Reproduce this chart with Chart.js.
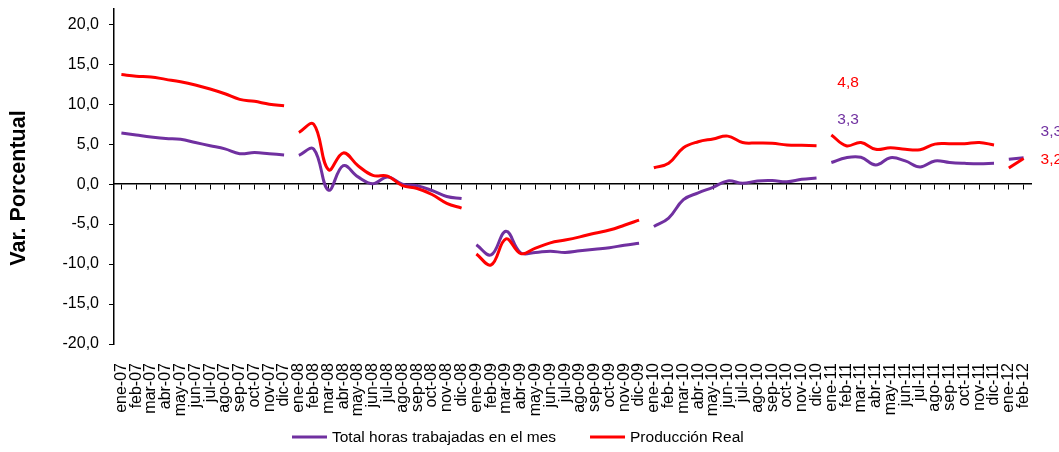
<!DOCTYPE html>
<html>
<head>
<meta charset="utf-8">
<script src="https://cdn.jsdelivr.net/npm/chart.js@4/dist/chart.umd.min.js"></script>
<style>
  html, body { margin: 0; padding: 0; background: #fff; }
</style>
</head>
<body>
<canvas id="chart" width="1059" height="452"></canvas>
<script>
// ---------- categories ----------
const months = ['ene', 'feb', 'mar', 'abr', 'may', 'jun', 'jul', 'ago', 'sep', 'oct', 'nov', 'dic'];
const years = ['07', '08', '09', '10', '11', '12'];
const labels = years.flatMap(y => months.map(m => m + '-' + y)).slice(0, 62);

// ---------- series (var. % anual) ----------
const horas = [
  6.4, 6.15, 5.9, 5.7, 5.6, 5.2, 4.8, 4.4, 3.8, 3.95, 3.8, 3.65,
  3.6, 4.4, -0.75, 2.3, 0.9, 0.05, 0.9, 0.0, -0.2, -0.8, -1.55, -1.8,
  -7.6, -8.85, -5.9, -8.6, -8.55, -8.4, -8.55, -8.35, -8.15, -7.95, -7.65, -7.4,
  -5.3, -4.25, -1.95, -1.1, -0.4, 0.4, 0.1, 0.4, 0.45, 0.3, 0.6, 0.75,
  2.7, 3.3, 3.35, 2.4, 3.3, 2.9, 2.15, 2.9, 2.7, 2.6, 2.55, 2.6,
  3.1, 3.3
];
const produccion = [
  13.7, 13.5, 13.4, 13.1, 12.8, 12.4, 11.9, 11.3, 10.6, 10.35, 10.0, 9.8,
  6.45, 7.5, 1.8, 3.9, 2.3, 1.1, 1.0, -0.2, -0.55, -1.3, -2.4, -3.0,
  -8.75, -10.1, -6.85, -8.7, -8.0, -7.35, -7.0, -6.6, -6.15, -5.75, -5.15, -4.5,
  2.05, 2.6, 4.55, 5.3, 5.65, 6.0, 5.2, 5.15, 5.1, 4.9, 4.85, 4.8,
  6.15, 4.8, 5.2, 4.35, 4.55, 4.35, 4.3, 5.0, 5.05, 5.05, 5.2, 4.9,
  2.0, 3.2
];

// ---------- y axis ----------
const yMin = -20;
const yMax = 21.9;
const yStep = 5;
const yTitle = 'Var. Porcentual';

// value labels shown on the chart (feb-11 and feb-12)
const valueLabels = [
  { series: 'produccion', index: 49, dx: 2, dy: -63, align: 'center' },
  { series: 'horas', index: 49, dx: 2, dy: -38, align: 'center' },
  { series: 'horas', index: 61, dx: 17, dy: -26, align: 'left' },
  { series: 'produccion', index: 61, dx: 17, dy: 1, align: 'left' }
];

const FONT = '"Liberation Sans", Arial, sans-serif';
const fmt = v => v.toFixed(1).replace('.', ',');

const series = [
  { key: 'horas', label: 'Total horas trabajadas en el mes', color: '#7030A0', values: horas, order: 1 },
  { key: 'produccion', label: 'Producción Real', color: '#FF0000', values: produccion, order: 0 }
];

// one dataset per series and year, so each year is a separate line
const datasets = [];
series.forEach(s => {
  years.forEach(yr => {
    datasets.push({
      label: s.label,
      seriesKey: s.key,
      order: s.order,
      data: s.values.map((v, i) => labels[i].endsWith('-' + yr) ? v : null),
      borderColor: s.color,
      backgroundColor: s.color,
      borderWidth: 3,
      pointRadius: 0,
      tension: 0.4,
      spanGaps: false,
      fill: false
    });
  });
});

// ---------- value labels ----------
const valueLabelPlugin = {
  id: 'valueLabels',
  afterDatasetsDraw(chart) {
    const ctx = chart.ctx;
    ctx.save();
    ctx.font = '15.5px ' + FONT;
    ctx.textBaseline = 'middle';
    valueLabels.forEach(l => {
      const s = series.find(x => x.key === l.series);
      chart.data.datasets.forEach((ds, di) => {
        if (ds.seriesKey !== l.series || ds.data[l.index] == null) return;
        const pt = chart.getDatasetMeta(di).data[l.index];
        ctx.fillStyle = s.color;
        ctx.textAlign = l.align;
        ctx.fillText(fmt(ds.data[l.index]), pt.x + l.dx, pt.y + l.dy);
      });
    });
    ctx.restore();
  }
};

// ---------- legend + y title ----------
const legendPlugin = {
  id: 'bottomLegend',
  afterDraw(chart) {
    const ctx = chart.ctx;
    ctx.save();
    ctx.font = '15.5px ' + FONT;
    ctx.textBaseline = 'middle';
    ctx.textAlign = 'left';
    let x = 292;
    const y = 437;
    series.forEach(s => {
      ctx.strokeStyle = s.color;
      ctx.lineWidth = 3;
      ctx.beginPath();
      ctx.moveTo(x, y);
      ctx.lineTo(x + 35, y);
      ctx.stroke();
      ctx.fillStyle = '#000';
      ctx.fillText(s.label, x + 40, y + 1);
      x += 40 + ctx.measureText(s.label).width + 34;
    });

    // rotated axis title
    ctx.translate(19, 188);
    ctx.rotate(-Math.PI / 2);
    ctx.font = 'bold 21.5px ' + FONT;
    ctx.textAlign = 'center';
    ctx.fillStyle = '#000';
    ctx.fillText(yTitle, 0, 0);
    ctx.restore();
  }
};

new Chart(document.getElementById('chart'), {
  type: 'line',
  data: { labels: labels, datasets: datasets },
  options: {
    responsive: false,
    animation: false,
    devicePixelRatio: 1,
    layout: { padding: { top: 9, right: 28, bottom: 0, left: 0 } },
    plugins: {
      legend: { display: false },
      tooltip: { enabled: false }
    },
    scales: {
      x: {
        type: 'category',
        offset: true,
        grid: { display: false },
        border: { display: false },
        ticks: {
          autoSkip: false,
          minRotation: 90,
          maxRotation: 90,
          padding: 11,
          color: '#000',
          font: { family: FONT, size: 16 }
        },
        afterFit: s => { s.height = 108; }
      },
      x2: {
        type: 'category',
        position: { y: 0 },
        offset: true,
        ticks: { display: false },
        grid: { drawOnChartArea: false, drawTicks: true, tickLength: 5, color: '#000', lineWidth: 1 },
        border: { display: true, color: '#000', width: 1.5 }
      },
      y: {
        min: yMin,
        max: yMax,
        ticks: {
          stepSize: yStep,
          includeBounds: false,
          padding: 10,
          color: '#000',
          font: { family: FONT, size: 16 },
          callback: v => fmt(v)
        },
        grid: { drawOnChartArea: false, tickLength: 5, color: '#000', lineWidth: 1 },
        border: { display: true, color: '#000', width: 1.5 },
        afterFit: s => {
          s.width = 114;
          s.paddingTop = 0;
          s.paddingBottom = 0;
        }
      }
    }
  },
  plugins: [valueLabelPlugin, legendPlugin]
});
</script>
</body>
</html>
